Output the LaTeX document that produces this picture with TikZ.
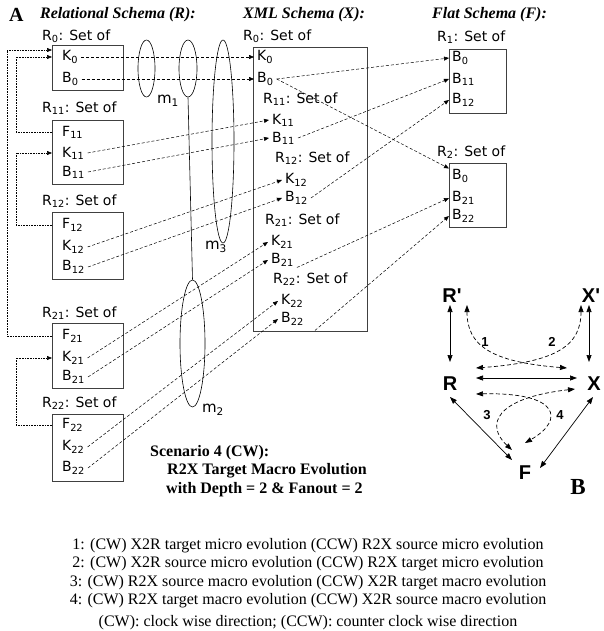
\documentclass[tikz,border=0pt]{standalone}
\usepackage{fontspec}
\setmainfont{Liberation Serif}
\newfontfamily\boxfont{DejaVu Sans}
\newfontfamily\cornerfont{Liberation Sans}
\usetikzlibrary{arrows.meta,shapes.geometric,calc}
\newcommand{\Sb}[1]{\textsubscript{#1}}
\newcommand{\Tick}{\textquotesingle}

\begin{document}
\begin{tikzpicture}[x=1pt,y=-1pt,
  field/.style={anchor=west,inner xsep=3pt,inner ysep=1pt,font=\boxfont\fontsize{14}{16}\selectfont},
  setof/.style={anchor=west,inner sep=0pt,font=\boxfont\fontsize{14}{16}\selectfont},
  schema/.style={anchor=west,inner sep=0pt,font=\bfseries\itshape\fontsize{16}{18}\selectfont},
  tbl/.style={draw=black!75,line width=0.8pt,anchor=north west,inner sep=0pt},
  link/.style={dash pattern=on 3pt off 2pt,line width=0.5pt,-{Triangle[length=5pt,width=4pt]}},
  fkey/.style={densely dotted,line width=0.6pt,-{Triangle[length=5pt,width=4pt]}},
  group/.style={draw,ellipse,inner sep=0pt,line width=0.6pt},
  mlabel/.style={font=\boxfont\fontsize{15}{17}\selectfont,inner sep=0pt},
  scen/.style={anchor=west,inner sep=0pt,font=\bfseries\fontsize{16}{18}\selectfont},
  corner/.style={font=\cornerfont\bfseries\fontsize{20}{22}\selectfont,inner sep=1pt},
  evo/.style={line width=0.7pt,{Triangle[length=7pt,width=5pt]}-{Triangle[length=7pt,width=5pt]}},
  evodash/.style={evo,dash pattern=on 4pt off 2.5pt},
  num/.style={font=\cornerfont\bfseries\fontsize{13}{15}\selectfont,inner sep=0pt}]
  \useasboundingbox (0,0) rectangle (604,631);

  %% headers
  \node[anchor=west,inner sep=0pt,font=\bfseries\fontsize{20}{22}\selectfont] (labA) at (9,15) {A};
  \node[schema] (hR) at (40,15) {Relational Schema (R):};
  \node[schema] (hX) at (243,15) {XML Schema (X):};
  \node[schema] (hF) at (432,15) {Flat Schema (F):};

  %% relational schema
  \node[setof] (sR0) at (42,36) {R\Sb{0}: Set of};
  \node[tbl,minimum width=71pt,minimum height=45pt] (R0box) at (52,45) {};
  \node[field] (rK0) at (59,57) {K\Sb{0}};
  \node[field] (rB0) at (59,79) {B\Sb{0}};

  \node[setof] (sR11) at (42,108) {R\Sb{11}: Set of};
  \node[tbl,minimum width=71pt,minimum height=64pt] (R11box) at (52,120) {};
  \node[field] (rF11) at (59,132) {F\Sb{11}};
  \node[field] (rK11) at (59,153) {K\Sb{11}};
  \node[field] (rB11) at (59,172) {B\Sb{11}};

  \node[setof] (sR12) at (42,201) {R\Sb{12}: Set of};
  \node[tbl,minimum width=71pt,minimum height=67pt] (R12box) at (52,212) {};
  \node[field] (rF12) at (59,225) {F\Sb{12}};
  \node[field] (rK12) at (59,247) {K\Sb{12}};
  \node[field] (rB12) at (59,267) {B\Sb{12}};

  \node[setof] (sR21) at (42,313) {R\Sb{21}: Set of};
  \node[tbl,minimum width=71pt,minimum height=65pt] (R21box) at (52,323) {};
  \node[field] (rF21) at (59,336) {F\Sb{21}};
  \node[field] (rK21) at (59,358) {K\Sb{21}};
  \node[field] (rB21) at (59,377) {B\Sb{21}};

  \node[setof] (sR22) at (42,403) {R\Sb{22}: Set of};
  \node[tbl,minimum width=71pt,minimum height=67pt] (R22box) at (52,414) {};
  \node[field] (rF22) at (59,425) {F\Sb{22}};
  \node[field] (rK22) at (59,447) {K\Sb{22}};
  \node[field] (rB22) at (59,468) {B\Sb{22}};

  %% foreign keys
  \draw[fkey] (R11box.west |- rF11) -- ++(-36,0) |- (R0box.west |- rK0);
  \draw[fkey] (R21box.west |- rF21) -- ++(-45,0) |- ($(R0box.west |- rK0)+(0,-7)$);
  \draw[fkey] (R12box.west |- rF12) -- ++(-36,0) |- (R11box.west |- rK11);
  \draw[fkey] (R22box.west |- rF22) -- ++(-36,0) |- (R21box.west |- rK21);

  %% XML schema
  \node[setof] (sX0) at (243,36) {R\Sb{0}: Set of};
  \node[tbl,minimum width=114pt,minimum height=284pt] (X0box) at (253,47) {};
  \node[field] (xK0) at (254,57) {K\Sb{0}};
  \node[field] (xB0) at (254,79) {B\Sb{0}};
  \node[setof] (sX11) at (263,99) {R\Sb{11}: Set of};
  \node[field] (xK11) at (269,120) {K\Sb{11}};
  \node[field] (xB11) at (269,138) {B\Sb{11}};
  \node[setof] (sX12) at (275,158) {R\Sb{12}: Set of};
  \node[field] (xK12) at (282,180) {K\Sb{12}};
  \node[field] (xB12) at (282,198) {B\Sb{12}};
  \node[setof] (sX21) at (265,220) {R\Sb{21}: Set of};
  \node[field] (xK21) at (268,242) {K\Sb{21}};
  \node[field] (xB21) at (268,260) {B\Sb{21}};
  \node[setof] (sX22) at (273,279) {R\Sb{22}: Set of};
  \node[field] (xK22) at (278,301) {K\Sb{22}};
  \node[field] (xB22) at (278,319) {B\Sb{22}};

  %% flat schema
  \node[setof] (sF1) at (437,37) {R\Sb{1}: Set of};
  \node[tbl,minimum width=57pt,minimum height=64pt] (F1box) at (449,49) {};
  \node[field] (fB0a) at (449,58) {B\Sb{0}};
  \node[field] (fB11) at (449,79) {B\Sb{11}};
  \node[field] (fB12) at (449,100) {B\Sb{12}};
  \node[setof] (sF2) at (437,152) {R\Sb{2}: Set of};
  \node[tbl,minimum width=57pt,minimum height=64pt] (F2box) at (449,163) {};
  \node[field] (fB0b) at (449,176) {B\Sb{0}};
  \node[field] (fB21) at (449,198) {B\Sb{21}};
  \node[field] (fB22) at (449,216) {B\Sb{22}};

  %% relational -> XML
  \draw[link] (rK0.east) -- (xK0.west);
  \draw[link] (rB0.east) -- (xB0.west);
  \draw[link] (rK11.east) -- (xK11.west);
  \draw[link] (rB11.east) -- (xB11.west);
  \draw[link] (rK12.east) -- (xK12.west);
  \draw[link] (rB12.east) -- (xB12.west);
  \draw[link] (rK21.east) -- (xK21.west);
  \draw[link] (rB21.east) -- (xB21.west);
  \draw[link] (rK22.east) -- (xK22.west);
  \draw[link] (rB22.east) -- (xB22.west);

  %% XML -> flat
  \draw[link] (xB0.east) -- (fB0a.west);
  \draw[link] (xB0.east) -- (fB0b.north west);
  \draw[link] (xB11.east) -- (fB11.west);
  \draw[link] (xB12.east) -- (fB12.west);
  \draw[link] (xB21.south east) -- (fB21.west);
  \draw[link] ($(xB22.south east)+(8,4)$) -- (fB22.west);

  %% mapping groups
  \node[group,minimum width=17pt,minimum height=57pt] (m1e) at (146.5,68.5) {};
  \node[group,minimum width=18pt,minimum height=57pt] (m4e) at (188,68.5) {};
  \node[group,minimum width=22pt,minimum height=203pt] (m3e) at (223,141.5) {};
  \node[group,minimum width=25pt,minimum height=127pt] (m2e) at (192.5,343.5) {};
  \draw[line width=0.6pt] (m4e.south) -- (m2e.north);
  \node[mlabel] (m1) at (168,101) {m\Sb{1}};
  \node[mlabel] (m3) at (216,247) {m\Sb{3}};
  \node[mlabel] (m2) at (213,410) {m\Sb{2}};

  %% scenario caption
  \node[scen] (scen1) at (150,453) {Scenario 4 (CW):};
  \node[scen] (scen2) at (167,471) {R2X Target Macro Evolution};
  \node[scen] (scen3) at (166,490) {with Depth = 2 \& Fanout = 2};

  %% B: evolution cycle
  \node[corner] (Rp) at (452,296) {R\Tick};
  \node[corner] (Xp) at (591,296) {X\Tick};
  \node[corner] (Rn) at (450,384) {R};
  \node[corner] (Xn) at (594,384) {X};
  \node[corner] (Fn) at (525,473) {F};
  \node[inner sep=0pt,font=\bfseries\fontsize{23}{24}\selectfont] (labB) at (578,487) {B};

  \draw[evo] ($(Rn)+(0,-79)$) -- ($(Rn)+(0,-22)$);
  \draw[evo] ($(Xn)+(-5,-79)$) -- ($(Xn)+(-5,-22)$);
  \draw[evo] ($(Rn)+(26,-6)$) -- ($(Xn)+(-17,-6)$);
  \draw[evo] ($(Rn)+(0,13)$) -- ($(Fn)+(-13,-13)$);
  \draw[evo] ($(Xn)+(-1,13)$) -- ($(Fn)+(15,-5)$);

  %% dashed micro / macro paths
  \draw[evodash] ($(Rp)+(15,9)$) .. controls (467,345) and (490,362) .. ($(Xn)+(-27,-16)$);
  \draw[evodash] ($(Xp)+(-10,9)$) .. controls (581,345) and (558,362) .. ($(Rn)+(26,-16)$);
  \draw[evodash] ($(Xn)+(-19,5)$) .. controls (495,398) and (485,425) .. ($(Fn)+(-13,-23)$);
  \draw[evodash] ($(Rn)+(26,10)$) .. controls (560,392) and (565,420) .. ($(Fn)+(0,-30)$);
  \node[num] (n1) at (485,342) {1};
  \node[num] (n2) at (552,342) {2};
  \node[num] (n3) at (487,415) {3};
  \node[num] (n4) at (560,415) {4};

  %% legend
  \node[anchor=north,inner sep=0pt,align=center,font=\fontsize{16}{18.5}\selectfont] (legend) at (308,538) {%
    1: (CW) X2R target micro evolution (CCW) R2X source micro evolution\\
    2: (CW) X2R source micro evolution (CCW) R2X target micro evolution\\
    3: (CW) R2X source macro evolution (CCW) X2R target macro evolution\\
    4: (CW) R2X target macro evolution (CCW) X2R source macro evolution\\[3pt]
    (CW): clock wise direction; (CCW): counter clock wise direction};
\end{tikzpicture}
\end{document}
